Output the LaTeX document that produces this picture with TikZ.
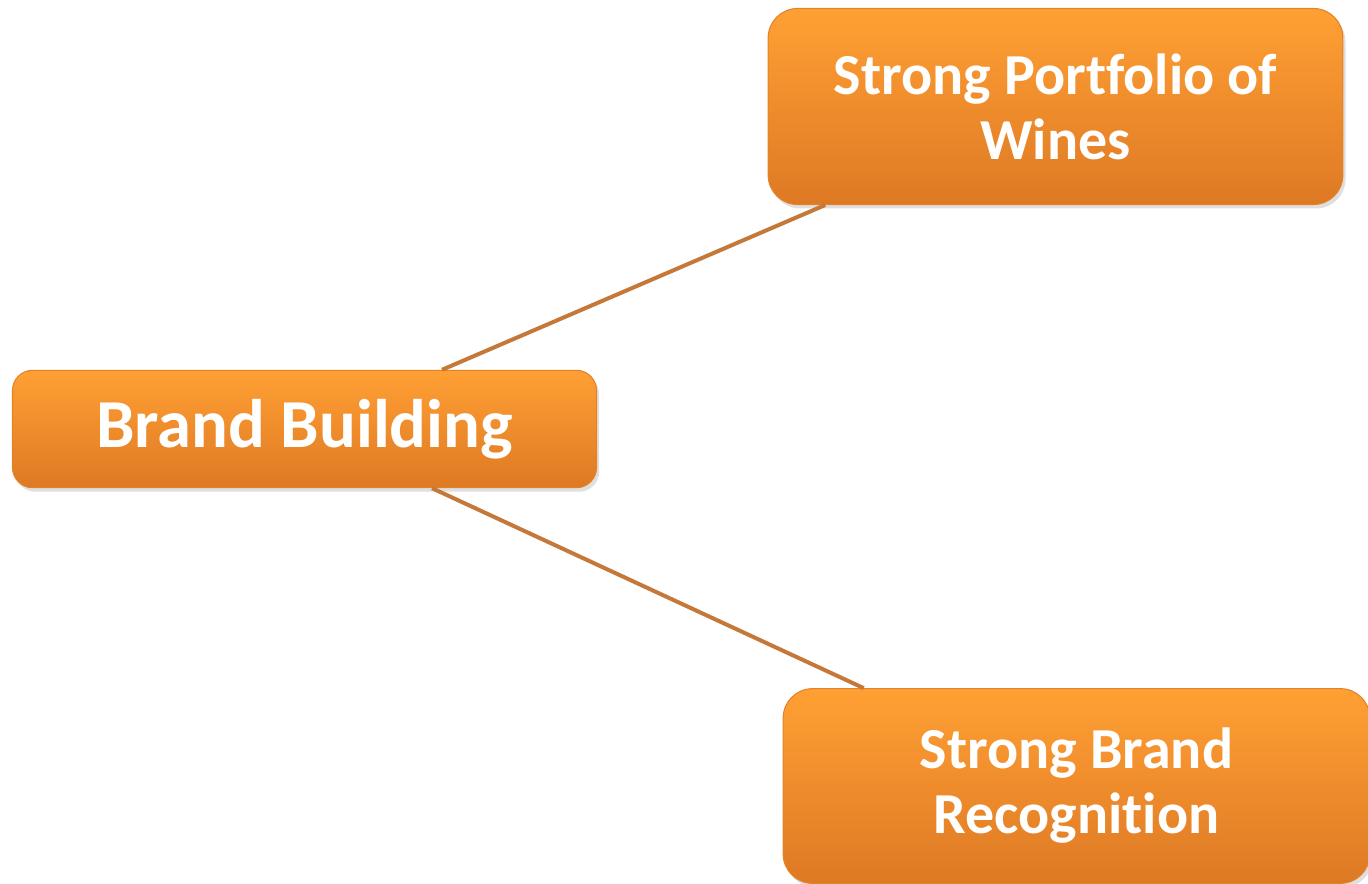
\documentclass[tikz,border=0pt]{standalone}
\usepackage{fontspec}
\setmainfont{Carlito}[Ligatures=NoCommon]
\usepackage{tikz}
\usepackage{xcolor}
\usetikzlibrary{positioning,calc,shadows}

\definecolor{boxtop}{RGB}{255,160,52}
\definecolor{boxbot}{RGB}{222,121,36}
\definecolor{boxedge}{RGB}{228,130,40}
\definecolor{linkcol}{RGB}{196,121,58}

\tikzset{
  brandbox/.style={rectangle, rounded corners=22pt, draw=boxedge, line width=0.8pt,
    top color=boxtop, bottom color=boxbot, text=white, align=center,
    font=\bfseries\fontsize{43.5}{48.75}\selectfont,
    drop shadow={opacity=0.25, shadow xshift=2pt, shadow yshift=-3pt}},
  link/.style={draw=linkcol, line width=3pt}
}

\begin{document}
\begin{tikzpicture}[x=0.75pt,y=-0.75pt]
   \useasboundingbox (0,0) rectangle (1368,884);
   \node[brandbox,minimum width=438pt,minimum height=88pt,rounded corners=15pt,
         font=\bfseries\fontsize{51.5}{60}\selectfont] (bb) at (304.5,429) {Brand Building};
   \node[brandbox,minimum width=431pt,minimum height=147pt] (spw) at (1055.5,106.5) {Strong Portfolio of\\Wines};
   \node[brandbox,minimum width=440pt,minimum height=146pt] (sbr) at (1076.5,786) {Strong Brand\\Recognition};
   % link ends on the box edges
   \coordinate (bb_top) at ($(bb.north west)!0.735!(bb.north east)$);
   \coordinate (bb_bot) at ($(bb.south west)!0.718!(bb.south east)$);
   \coordinate (spw_bot) at ($(spw.south west)!0.10!(spw.south east)$);
   \coordinate (sbr_top) at ($(sbr.north west)!0.138!(sbr.north east)$);
   \path[link]
    (bb_top) -- (spw_bot)
    (bb_bot) -- (sbr_top);
\end{tikzpicture}
\end{document}
